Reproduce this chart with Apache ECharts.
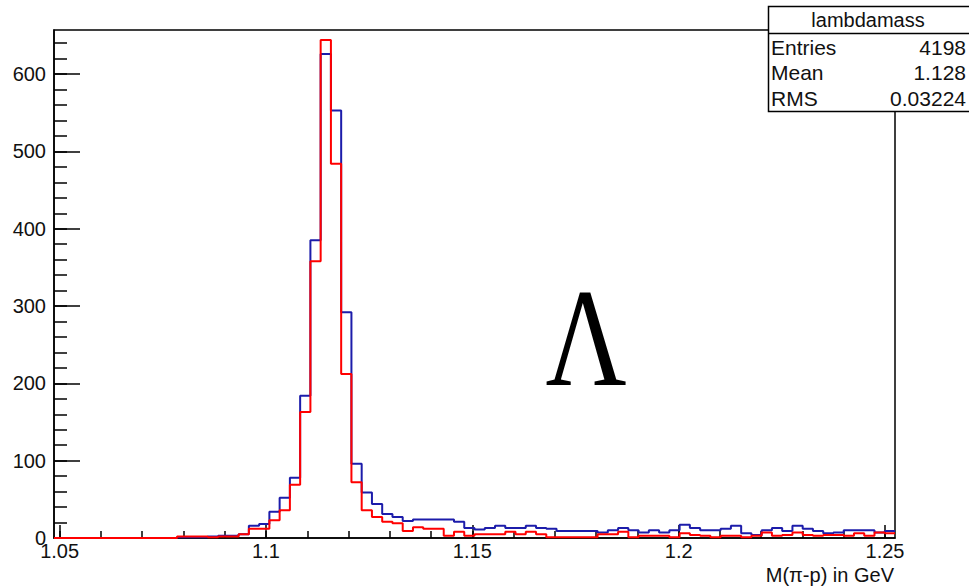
<!DOCTYPE html>
<html>
<head>
<meta charset="utf-8">
<script src="https://cdn.jsdelivr.net/npm/echarts@6/dist/echarts.min.js"></script>
<style>html,body{margin:0;padding:0;background:#fff}#c{width:969px;height:586px}</style>
</head>
<body>
<div id="c"></div>
<script>
// Histogram binning (GeV)
const binLow = 1.04863;
const binWidth = 0.0024853;
// Bin contents, bins 0..81
const blueCounts = [0,0,0,0,0,0,0,0,0,0,0,0,
  1,1,1,2,3,3,5,16,18,34,52,78,184,385,626,553,292,96,59,44,31,27,
  22,24,24,24,24,21,13,11,13,16,13,13,16,13,12,9,9,9,9,7,10,13,
  10,7,10,7,10,17,13,10,10,12,16,6,4,10,13,9,16,12,9,6,7,10,10,10,7,9];
const redCounts = [0,0,0,0,0,0,0,0,0,0,0,0,
  2,2,2,1,2,2,5,12,12,23,36,69,163,358,644,484,212,72,36,27,21,19,
  9,14,12,12,3,8,3,5,5,5,8,5,8,5,1,1,1,1,1,5,5,8,
  1,3,3,3,1,6,4,3,1,3,3,1,3,7,3,4,7,4,3,4,4,3,6,3,7,6];
// Axis ticks / labels
const xMajorTicks = [1.05, 1.1, 1.15, 1.2, 1.25];
const xMinorTicks = [1.05,1.06,1.07,1.08,1.09,1.1,1.11,1.12,1.13,1.14,1.15,1.16,1.17,1.18,1.19,1.2,1.21,1.22,1.23,1.24,1.25];
const yMajorTicks = [0, 100, 200, 300, 400, 500, 600];
const yMinorTicks = [0,20,40,60,80,100,120,140,160,180,200,220,240,260,280,300,320,340,360,380,400,420,440,460,480,500,520,540,560,580,600,620,640];
const yMax = 657;
const histName = 'lambdamass';
const statLabels = ['Entries', 'Mean', 'RMS'];
const statValues = ['4198', '1.128', '0.03224'];
const xTitle = 'M(π-p) in GeV';
const particle = 'Λ';

const nBins = blueCounts.length;
const xMin = binLow, xMax = binLow + nBins * binWidth;
function steps(counts) {
  const pts = counts.map((c, i) => [binLow + i * binWidth, c]);
  pts.push([xMax, counts[counts.length - 1]]);
  return pts;
}
const FONT = 'Liberation Sans, Arial, sans-serif';
const TXT = '#111';
const chart = echarts.init(document.getElementById('c'), null, {renderer: 'svg'});
const statTexts = [];
statLabels.forEach((l, i) => {
  const y = 47 + i * 25.5;
  statTexts.push({type: 'text', x: 771, y: y, z: 101, style: {text: l, fill: TXT, font: '21px ' + FONT, textAlign: 'left', textVerticalAlign: 'middle'}});
  statTexts.push({type: 'text', x: 966, y: y, z: 101, style: {text: statValues[i], fill: TXT, font: '21px ' + FONT, textAlign: 'right', textVerticalAlign: 'middle'}});
});
chart.setOption({
  animation: false,
  backgroundColor: '#fff',
  grid: {left: 54, right: 74, top: 30, bottom: 48, show: true, borderColor: '#000', borderWidth: 1.5, backgroundColor: 'transparent'},
  xAxis: [
    {type: 'value', min: xMin, max: xMax, position: 'bottom',
     axisLine: {show: true, onZero: false, lineStyle: {color: '#000', width: 1.5}},
     axisTick: {show: true, inside: true, length: 13, customValues: xMajorTicks, lineStyle: {color: '#000', width: 1.5}},
     axisLabel: {show: true, customValues: xMajorTicks, formatter: v => String(+(+v).toFixed(3)), color: TXT, fontSize: 20, fontFamily: FONT, margin: 3},
     splitLine: {show: false}},
    {type: 'value', min: xMin, max: xMax, position: 'bottom',
     axisLine: {show: false, onZero: false},
     axisTick: {show: true, inside: true, length: 7, customValues: xMinorTicks, lineStyle: {color: '#000', width: 1.5}},
     axisLabel: {show: false}, splitLine: {show: false}}
  ],
  yAxis: [
    {type: 'value', min: 0, max: yMax, position: 'left',
     axisLine: {show: true, onZero: false, lineStyle: {color: '#000', width: 1.5}},
     axisTick: {show: true, inside: true, length: 26, customValues: yMajorTicks, lineStyle: {color: '#000', width: 1.5}},
     axisLabel: {show: true, customValues: yMajorTicks, color: TXT, fontSize: 20, fontFamily: FONT, margin: 8},
     splitLine: {show: false}},
    {type: 'value', min: 0, max: yMax, position: 'left',
     axisLine: {show: false, onZero: false},
     axisTick: {show: true, inside: true, length: 13, customValues: yMinorTicks, lineStyle: {color: '#000', width: 1.5}},
     axisLabel: {show: false}, splitLine: {show: false}}
  ],
  series: [
    {type: 'line', step: 'end', data: steps(blueCounts), symbol: 'none', xAxisIndex: 0, yAxisIndex: 0,
     lineStyle: {color: '#1c1caa', width: 2}, z: 3},
    {type: 'line', step: 'end', data: steps(redCounts), symbol: 'none', xAxisIndex: 0, yAxisIndex: 0,
     lineStyle: {color: '#ff0000', width: 2}, z: 4}
  ],
  graphic: [
    {type: 'rect', z: 100, shape: {x: 768.5, y: 6.5, width: 230, height: 105}, style: {fill: '#fff', stroke: '#000', lineWidth: 1.5}},
    {type: 'line', z: 100, shape: {x1: 768, y1: 33.5, x2: 969, y2: 33.5}, style: {stroke: '#000', lineWidth: 1.5}},
    {type: 'text', x: 868, y: 20, z: 101, style: {text: histName, fill: TXT, font: '20px ' + FONT, textAlign: 'center', textVerticalAlign: 'middle'}},
    ...statTexts,
    {type: 'text', x: 894, y: 575, z: 101, style: {text: xTitle, fill: TXT, font: '20px ' + FONT, textAlign: 'right', textVerticalAlign: 'middle'}},
    {type: 'text', x: 586, y: 338, z: 101, scaleX: 0.8, style: {text: particle, fill: '#000', font: '140px Liberation Serif, Times New Roman, serif', textAlign: 'center', textVerticalAlign: 'middle'}}
  ]
});
</script>
</body>
</html>
